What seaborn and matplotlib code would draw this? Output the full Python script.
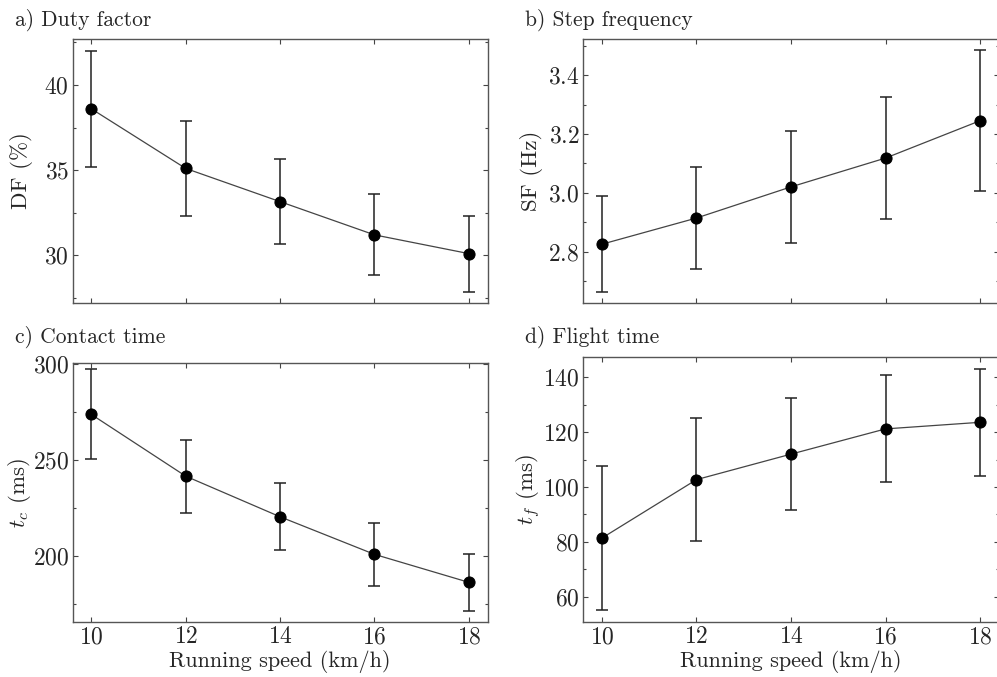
import numpy as np
import pandas as pd
import matplotlib
matplotlib.use("Agg")
import matplotlib.pyplot as plt
from matplotlib.ticker import AutoMinorLocator, MultipleLocator
import seaborn as sns

speed = [10, 12, 14, 16, 18]

df_mean = [38.6, 35.1, 33.15, 31.2, 30.1]
df_err = [3.4, 2.8, 2.5, 2.38, 2.23]

sf_mean = [2.825, 2.914, 3.02, 3.118, 3.245]
sf_err = [0.163, 0.175, 0.19, 0.208, 0.24]

tc_mean = [273.7, 241.5, 220.3, 200.7, 186.1]
tc_err = [23.5, 19.0, 17.4, 16.3, 14.7]

tf_mean = [81.4, 102.7, 112.0, 121.2, 123.6]
tf_err = [26.3, 22.4, 20.5, 19.5, 19.5]

titles = ["a) Duty factor", "b) Step frequency", "c) Contact time", "d) Flight time"]
ylabels = ["DF (%)", "SF (Hz)", r"$t_c$ (ms)", r"$t_f$ (ms)"]
xlabel = "Running speed (km/h)"

sns.set_theme(style="ticks")
plt.rcParams.update({
    "font.family": "serif",
    "font.serif": ["cmr10"],
    "mathtext.fontset": "cm",
    "axes.formatter.use_mathtext": True,
    "axes.unicode_minus": False,
    "font.size": 17,
    "axes.edgecolor": "#555555",
    "axes.linewidth": 1.0,
})

W, H = 997, 677
fig = plt.figure(figsize=(W / 100, H / 100), dpi=100)

def rect(l, t, r, b):
    return [l / W, 1 - b / H, (r - l) / W, (b - t) / H]

positions = [rect(72.5, 39, 487.7, 303), rect(583, 39, 999, 303),
             rect(72.5, 363.3, 487.7, 622), rect(583, 357.3, 999, 622)]
ylims = [(27.2, 42.7), (2.625, 3.523), (165.4, 300.4), (50.8, 147.3)]
majors = [5, 0.2, 50, 20]
means = [df_mean, sf_mean, tc_mean, tf_mean]
errs = [df_err, sf_err, tc_err, tf_err]
title_pos = [(15, 26), (525, 26), (15, 343), (525, 343)]
ylabel_right = [33, 543, 33, 543]

for i in range(4):
    ax = fig.add_axes(positions[i])
    data = pd.DataFrame({"speed": speed, "value": means[i]})
    ax.errorbar(speed, means[i], yerr=errs[i], fmt="none", ecolor="#222222",
                elinewidth=1.1, capsize=4.2, capthick=1.1, zorder=2)
    sns.lineplot(data=data, x="speed", y="value", ax=ax, color="#444444",
                 linewidth=0.9, marker="o", markersize=8,
                 markerfacecolor="black", markeredgecolor="black", zorder=3)
    ax.set_xlim(9.6, 18.4)
    ax.set_ylim(*ylims[i])
    ax.xaxis.set_major_locator(MultipleLocator(2))
    ax.yaxis.set_major_locator(MultipleLocator(majors[i]))
    ax.yaxis.set_minor_locator(AutoMinorLocator(2))
    ax.tick_params(which="both", direction="in", top=True, right=True,
                   color="#444444", width=0.8, labelsize=17)
    ax.tick_params(axis="x", pad=3)
    ax.tick_params(axis="y", pad=2.5)
    ax.tick_params(which="major", length=3.5)
    ax.tick_params(which="minor", length=2)
    ax.set_ylabel(ylabels[i], fontsize=16.5)
    ax.yaxis.set_label_coords((ylabel_right[i] - positions[i][0] * W) / (positions[i][2] * W), 0.5)
    if i < 2:
        ax.set_xlabel("")
        ax.tick_params(labelbottom=False)
    else:
        ax.set_xlabel(xlabel, fontsize=16, labelpad=1)
    fig.text(title_pos[i][0] / W, 1 - title_pos[i][1] / H, titles[i],
             fontsize=15.5, ha="left", va="baseline")

fig.savefig("out.png", dpi=100)
